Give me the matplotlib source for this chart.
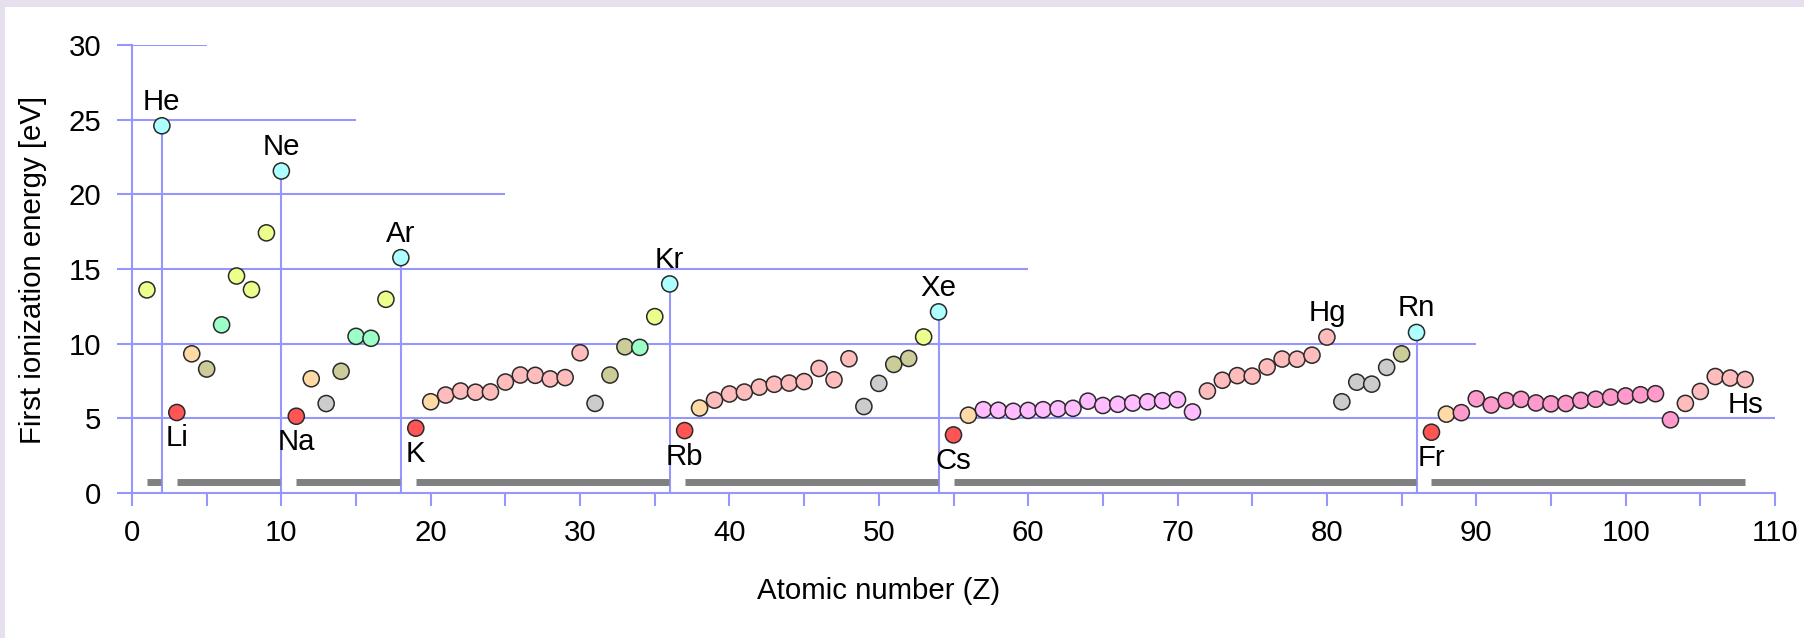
import matplotlib
matplotlib.use("Agg")
import matplotlib.pyplot as plt
from matplotlib.patches import Rectangle
import numpy as np

# ---------------- data ----------------
atomic_number = list(range(1, 109))
ionization_energy = [
    13.60, 24.59, 5.39, 9.32, 8.30, 11.26, 14.53, 13.62, 17.42, 21.56,   # 1-10
    5.14, 7.65, 5.99, 8.15, 10.49, 10.36, 12.97, 15.76, 4.34, 6.11,      # 11-20
    6.56, 6.83, 6.75, 6.77, 7.43, 7.90, 7.88, 7.64, 7.73, 9.39,          # 21-30
    6.00, 7.90, 9.79, 9.75, 11.81, 14.00, 4.18, 5.69, 6.22, 6.63,        # 31-40
    6.76, 7.09, 7.28, 7.36, 7.46, 8.34, 7.58, 8.99, 5.79, 7.34,          # 41-50
    8.61, 9.01, 10.45, 12.13, 3.89, 5.21, 5.58, 5.54, 5.47, 5.53,        # 51-60
    5.58, 5.64, 5.67, 6.15, 5.86, 5.94, 6.02, 6.11, 6.18, 6.25,          # 61-70
    5.43, 6.83, 7.55, 7.86, 7.83, 8.44, 8.97, 8.96, 9.23, 10.44,         # 71-80
    6.11, 7.42, 7.29, 8.41, 9.32, 10.75, 4.07, 5.28, 5.38, 6.31,         # 81-90
    5.89, 6.19, 6.27, 6.03, 5.97, 5.99, 6.20, 6.28, 6.42, 6.50,          # 91-100
    6.58, 6.65, 4.90, 6.00, 6.80, 7.80, 7.70, 7.60,                      # 101-108
]
category = (
    ["dia", "noble", "alk", "ae", "metalloid", "poly", "dia", "dia", "dia", "noble"]
    + ["alk", "ae", "post", "metalloid", "poly", "poly", "dia", "noble"]
    + ["alk", "ae"] + ["trans"] * 10
    + ["post", "metalloid", "metalloid", "poly", "dia", "noble"]
    + ["alk", "ae"] + ["trans"] * 10
    + ["post", "post", "metalloid", "metalloid", "dia", "noble"]
    + ["alk", "ae"] + ["lan"] * 15 + ["trans"] * 9
    + ["post", "post", "post", "post", "metalloid", "noble"]
    + ["alk", "ae"] + ["act"] * 15 + ["trans"] * 5
)
category_colors = {
    "alk": "#ff5555", "ae": "#ffdaa6", "trans": "#ffbcbc", "lan": "#ffbcff",
    "act": "#ff9acc", "post": "#cccccc", "metalloid": "#cccc99",
    "poly": "#9cffc8", "dia": "#ecff8c", "noble": "#aeffff",
}
noble_gases = [2, 10, 18, 36, 54, 86]
period_ranges = [(1, 2), (3, 10), (11, 18), (19, 36), (37, 54), (55, 86), (87, 108)]
grid_levels = [5, 10, 15, 20, 25, 30]
grid_extents = [110, 90, 60, 25, 15, 5]
labels_above = {2: "He", 10: "Ne", 18: "Ar", 36: "Kr", 54: "Xe", 86: "Rn", 80: "Hg"}
labels_below = {3: "Li", 11: "Na", 19: "K", 37: "Rb", 55: "Cs", 87: "Fr", 108: "Hs"}
x_ticks = list(range(0, 111, 10))
x_minor_ticks = list(range(5, 110, 10))
y_ticks = list(range(0, 31, 5))

# ---------------- style ----------------
plt.rcParams["font.family"] = ["Liberation Sans", "DejaVu Sans"]
FS = 21.2
BLUE = "#9696ff"
LW = 1.5

W, H = 1804, 638
fig = plt.figure(figsize=(W / 100, H / 100), dpi=100, facecolor="#e6e0ee")
fig.patches.append(Rectangle((5 / W, 0), 1 - 5 / W, (H - 7) / H,
                             transform=fig.transFigure, facecolor="white",
                             edgecolor="none", zorder=-10))

x0, x110, y0, y30 = 132, 1775, 493, 45
ax = fig.add_axes([x0 / W, (H - y0) / H, (x110 - x0) / W, (y0 - y30) / H])
ax.set_zorder(1)
ax.set_facecolor("none")
ax.set_xlim(0, 110)
ax.set_ylim(0, 30)

for s in ["top", "right"]:
    ax.spines[s].set_visible(False)
for s in ["left", "bottom"]:
    ax.spines[s].set_color(BLUE)
    ax.spines[s].set_linewidth(LW)

ax.set_xticks(x_ticks)
ax.set_xticks(x_minor_ticks, minor=True)
ax.set_yticks(y_ticks)
ax.tick_params(axis="x", which="both", direction="out", length=9.4, width=LW,
               color=BLUE, pad=9.5, labelsize=FS)
ax.tick_params(axis="y", direction="out", length=10.8, width=LW,
               color=BLUE, pad=11.5, labelsize=FS)

# horizontal grid lines of varying extents
for lvl, ext in zip(grid_levels, grid_extents):
    ax.hlines(lvl, 0, ext, color=BLUE, lw=LW, zorder=1)

# vertical lines at noble gases
for z in noble_gases:
    ax.vlines(z, 0, ionization_energy[z - 1], color=BLUE, lw=LW, zorder=1)

# period bars
for a, b in period_ranges:
    ax.hlines(0.72, a, b - 0.06 if b in noble_gases else b, color="#808080",
              lw=5.0, zorder=2, capstyle="butt")

# markers
cols = [category_colors[c] for c in category]
ax.scatter(atomic_number, ionization_energy, s=11.6 ** 2, c=cols,
           edgecolors="#2a2a2a", linewidths=1.1, zorder=4, clip_on=False)

# element labels
for z, name in labels_above.items():
    ax.annotate(name, (z, ionization_energy[z - 1]), xytext=(0, 11.5),
                textcoords="offset points", ha="center", va="baseline",
                fontsize=FS, zorder=5)
for z, name in labels_below.items():
    ax.annotate(name, (z, ionization_energy[z - 1]), xytext=(0, -8.6),
                textcoords="offset points", ha="center", va="top",
                fontsize=FS, zorder=5)

fig.text(33 / W, (H - 270) / H, "First ionization energy [eV]", rotation=90,
         ha="center", va="center", fontsize=FS)
fig.text(879 / W, (H - 591) / H, "Atomic number (Z)", ha="center", va="center",
         fontsize=FS)

fig.savefig("out.png", dpi=100, facecolor=fig.get_facecolor())
